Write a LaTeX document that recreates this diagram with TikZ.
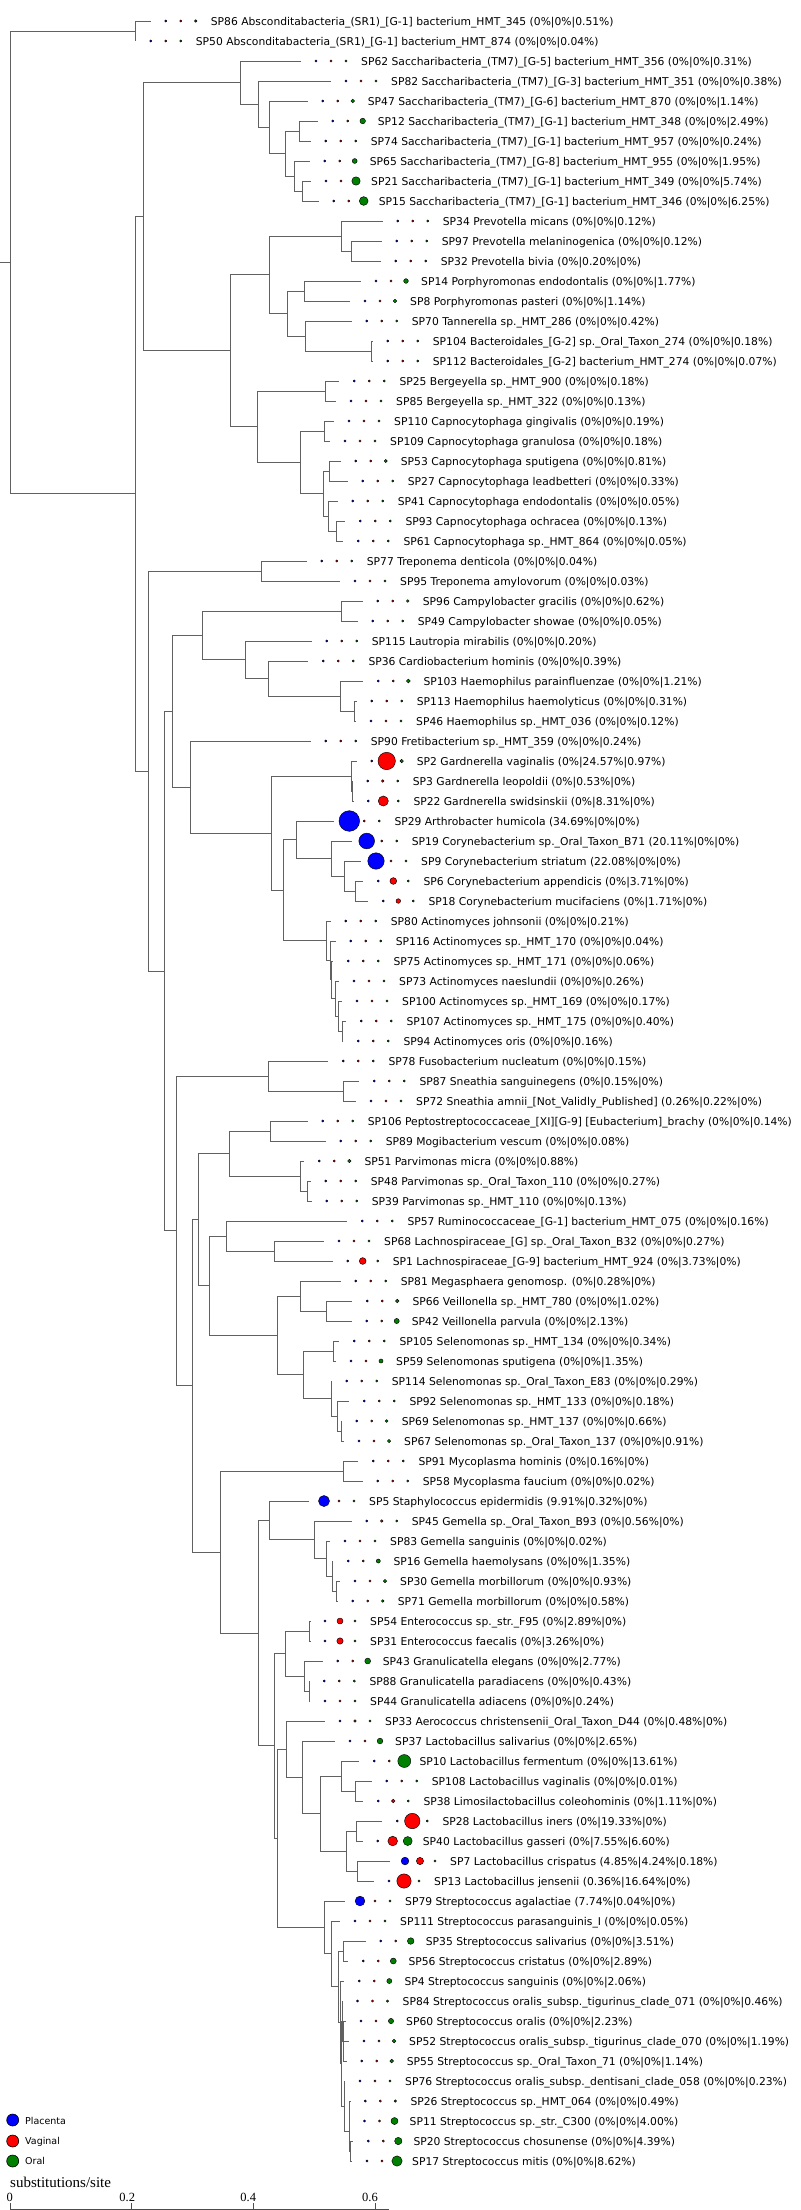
\documentclass[tikz,border=0pt]{standalone}
\usepackage{fontspec}
\setmainfont{DejaVu Sans}
\newfontfamily\axisfont{Liberation Serif}
\usetikzlibrary{calc}
\definecolor{plc}{RGB}{0,0,255}
\definecolor{vag}{RGB}{255,0,0}
\definecolor{orl}{RGB}{0,128,0}
% leaf: id, tip x, row, placenta, vaginal, oral, name
\newcommand\leaf[7]{%
  \pgfmathsetmacro\ly{21+20*(#3-1)}%
  \coordinate (sp#1) at (#2,\ly);
  \pgfmathsetmacro\da{2*max(1.1,1.75*sqrt(#4))}%
  \pgfmathsetmacro\db{2*max(1.1,1.75*sqrt(#5))}%
  \pgfmathsetmacro\dc{2*max(1.1,1.75*sqrt(#6))}%
  \node[dotc,fill=plc,minimum size=\da pt] (sp#1a) at ($(sp#1)+(15,0)$) {};
  \node[dotc,fill=vag,minimum size=\db pt] (sp#1b) at ($(sp#1)+(30,0)$) {};
  \node[dotc,fill=orl,minimum size=\dc pt] (sp#1c) at ($(sp#1)+(45,0)$) {};
  \node[lbl] (sp#1t) at ($(sp#1)+(60,4.3)$) {SP#1 #7 (#4\%|#5\%|#6\%)};
}
% clade: name, x, first child, last child
\newcommand\clade[4]{%
  \path ($(#3)!0.5!(#4)$) coordinate (#1m);
  \path let \p1=(#1m) in (#2pt,\y1) coordinate (#1);
  \draw[br] (#1) |- (#3);
  \draw[br] (#1) |- (#4);
}
\begin{document}
\begin{tikzpicture}[x=1pt,y=-1pt,
  br/.style={draw=black!62,line width=0.9pt},
  dotc/.style={circle,draw=black,line width=0.45pt,inner sep=0pt},
  lbl/.style={anchor=base west,inner sep=0pt,font=\fontsize{10.75}{12}\selectfont},
  legc/.style={circle,draw=black,line width=0.6pt,inner sep=0pt,minimum size=12pt},
  legt/.style={anchor=base west,inner sep=0pt,font=\fontsize{9.5}{11}\selectfont},
  axl/.style={draw=black!70,line width=0.9pt},
  tickl/.style={anchor=base,inner sep=0pt,font=\axisfont\fontsize{12.5}{14}\selectfont}]
\useasboundingbox (0,0) rectangle (800,2210);

\leaf{86}{150.7}{1}{0}{0}{0.51}{Absconditabacteria\_(SR1)\_[G-1] bacterium\_HMT\_345}
\leaf{50}{135.7}{2}{0}{0}{0.04}{Absconditabacteria\_(SR1)\_[G-1] bacterium\_HMT\_874}
\leaf{62}{301}{3}{0}{0}{0.31}{Saccharibacteria\_(TM7)\_[G-5] bacterium\_HMT\_356}
\leaf{82}{331}{4}{0}{0}{0.38}{Saccharibacteria\_(TM7)\_[G-3] bacterium\_HMT\_351}
\leaf{47}{307.7}{5}{0}{0}{1.14}{Saccharibacteria\_(TM7)\_[G-6] bacterium\_HMT\_870}
\leaf{12}{317.7}{6}{0}{0}{2.49}{Saccharibacteria\_(TM7)\_[G-1] bacterium\_HMT\_348}
\leaf{74}{310.7}{7}{0}{0}{0.24}{Saccharibacteria\_(TM7)\_[G-1] bacterium\_HMT\_957}
\leaf{65}{309.7}{8}{0}{0}{1.95}{Saccharibacteria\_(TM7)\_[G-8] bacterium\_HMT\_955}
\leaf{21}{311}{9}{0}{0}{5.74}{Saccharibacteria\_(TM7)\_[G-1] bacterium\_HMT\_349}
\leaf{15}{318.7}{10}{0}{0}{6.25}{Saccharibacteria\_(TM7)\_[G-1] bacterium\_HMT\_346}
\leaf{34}{382.7}{11}{0}{0}{0.12}{Prevotella micans}
\leaf{97}{381.7}{12}{0}{0}{0.12}{Prevotella melaninogenica}
\leaf{32}{380.7}{13}{0}{0.20}{0}{Prevotella bivia}
\leaf{14}{361}{14}{0}{0}{1.77}{Porphyromonas endodontalis}
\leaf{8}{350}{15}{0}{0}{1.14}{Porphyromonas pasteri}
\leaf{70}{351.7}{16}{0}{0}{0.42}{Tannerella sp.\_HMT\_286}
\leaf{104}{372.7}{17}{0}{0}{0.18}{Bacteroidales\_[G-2] sp.\_Oral\_Taxon\_274}
\leaf{112}{372.7}{18}{0}{0}{0.07}{Bacteroidales\_[G-2] bacterium\_HMT\_274}
\leaf{25}{339.3}{19}{0}{0}{0.18}{Bergeyella sp.\_HMT\_900}
\leaf{85}{336}{20}{0}{0}{0.13}{Bergeyella sp.\_HMT\_322}
\leaf{110}{334}{21}{0}{0}{0.19}{Capnocytophaga gingivalis}
\leaf{109}{330}{22}{0}{0}{0.18}{Capnocytophaga granulosa}
\leaf{53}{340.7}{23}{0}{0}{0.81}{Capnocytophaga sputigena}
\leaf{27}{347.7}{24}{0}{0}{0.33}{Capnocytophaga leadbetteri}
\leaf{41}{337.7}{25}{0}{0}{0.05}{Capnocytophaga endodontalis}
\leaf{93}{345.3}{26}{0}{0}{0.13}{Capnocytophaga ochracea}
\leaf{61}{343.3}{27}{0}{0}{0.05}{Capnocytophaga sp.\_HMT\_864}
\leaf{77}{306.7}{28}{0}{0}{0.04}{Treponema denticola}
\leaf{95}{340}{29}{0}{0}{0.03}{Treponema amylovorum}
\leaf{96}{362.7}{30}{0}{0}{0.62}{Campylobacter gracilis}
\leaf{49}{357.7}{31}{0}{0}{0.05}{Campylobacter showae}
\leaf{115}{311.7}{32}{0}{0}{0.20}{Lautropia mirabilis}
\leaf{36}{308.3}{33}{0}{0}{0.39}{Cardiobacterium hominis}
\leaf{103}{363.3}{34}{0}{0}{1.21}{Haemophilus parainfluenzae}
\leaf{113}{356.7}{35}{0}{0}{0.31}{Haemophilus haemolyticus}
\leaf{46}{356}{36}{0}{0}{0.12}{Haemophilus sp.\_HMT\_036}
\leaf{90}{310.7}{37}{0}{0}{0.24}{Fretibacterium sp.\_HMT\_359}
\leaf{2}{356.7}{38}{0}{24.57}{0.97}{Gardnerella vaginalis}
\leaf{3}{352.7}{39}{0}{0.53}{0}{Gardnerella leopoldii}
\leaf{22}{353.3}{40}{0}{8.31}{0}{Gardnerella swidsinskii}
\leaf{29}{334.3}{41}{34.69}{0}{0}{Arthrobacter humicola}
\leaf{19}{351.7}{42}{20.11}{0}{0}{Corynebacterium sp.\_Oral\_Taxon\_B71}
\leaf{9}{361}{43}{22.08}{0}{0}{Corynebacterium striatum}
\leaf{6}{363.3}{44}{0}{3.71}{0}{Corynebacterium appendicis}
\leaf{18}{368.3}{45}{0}{1.71}{0}{Corynebacterium mucifaciens}
\leaf{80}{330.7}{46}{0}{0}{0.21}{Actinomyces johnsonii}
\leaf{116}{335.7}{47}{0}{0}{0.04}{Actinomyces sp.\_HMT\_170}
\leaf{75}{333.3}{48}{0}{0}{0.06}{Actinomyces sp.\_HMT\_171}
\leaf{73}{339}{49}{0}{0}{0.26}{Actinomyces naeslundii}
\leaf{100}{342}{50}{0}{0}{0.17}{Actinomyces sp.\_HMT\_169}
\leaf{107}{346.3}{51}{0}{0}{0.40}{Actinomyces sp.\_HMT\_175}
\leaf{94}{343.3}{52}{0}{0}{0.16}{Actinomyces oris}
\leaf{78}{328.3}{53}{0}{0}{0.15}{Fusobacterium nucleatum}
\leaf{87}{359.3}{54}{0}{0.15}{0}{Sneathia sanguinegens}
\leaf{72}{356}{55}{0.26}{0.22}{0}{Sneathia amnii\_[Not\_Validly\_Published]}
\leaf{106}{307.7}{56}{0}{0}{0.14}{Peptostreptococcaceae\_[XI][G-9] [Eubacterium]\_brachy}
\leaf{89}{325.7}{57}{0}{0}{0.08}{Mogibacterium vescum}
\leaf{51}{304.3}{58}{0}{0}{0.88}{Parvimonas micra}
\leaf{48}{310.7}{59}{0}{0}{0.27}{Parvimonas sp.\_Oral\_Taxon\_110}
\leaf{39}{311.7}{60}{0}{0}{0.13}{Parvimonas sp.\_HMT\_110}
\leaf{57}{347.3}{61}{0}{0}{0.16}{Ruminococcaceae\_[G-1] bacterium\_HMT\_075}
\leaf{68}{324}{62}{0}{0}{0.27}{Lachnospiraceae\_[G] sp.\_Oral\_Taxon\_B32}
\leaf{1}{332.7}{63}{0}{3.73}{0}{Lachnospiraceae\_[G-9] bacterium\_HMT\_924}
\leaf{81}{340.7}{64}{0}{0.28}{0}{Megasphaera genomosp.}
\leaf{66}{352.3}{65}{0}{0}{1.02}{Veillonella sp.\_HMT\_780}
\leaf{42}{351.7}{66}{0}{0}{2.13}{Veillonella parvula}
\leaf{105}{339.3}{67}{0}{0}{0.34}{Selenomonas sp.\_HMT\_134}
\leaf{59}{336}{68}{0}{0}{1.35}{Selenomonas sputigena}
\leaf{114}{331.7}{69}{0}{0}{0.29}{Selenomonas sp.\_Oral\_Taxon\_E83}
\leaf{92}{349.3}{70}{0}{0}{0.18}{Selenomonas sp.\_HMT\_133}
\leaf{69}{341.7}{71}{0}{0}{0.66}{Selenomonas sp.\_HMT\_137}
\leaf{67}{344}{72}{0}{0}{0.91}{Selenomonas sp.\_Oral\_Taxon\_137}
\leaf{91}{358.3}{73}{0}{0.16}{0}{Mycoplasma hominis}
\leaf{58}{362.7}{74}{0}{0}{0.02}{Mycoplasma faucium}
\leaf{5}{309}{75}{9.91}{0.32}{0}{Staphylococcus epidermidis}
\leaf{45}{351.7}{76}{0}{0.56}{0}{Gemella sp.\_Oral\_Taxon\_B93}
\leaf{83}{330}{77}{0}{0}{0.02}{Gemella sanguinis}
\leaf{16}{333.3}{78}{0}{0}{1.35}{Gemella haemolysans}
\leaf{30}{340}{79}{0}{0}{0.93}{Gemella morbillorum}
\leaf{71}{337.7}{80}{0}{0}{0.58}{Gemella morbillorum}
\leaf{54}{310}{81}{0}{2.89}{0}{Enterococcus sp.\_str.\_F95}
\leaf{31}{310}{82}{0}{3.26}{0}{Enterococcus faecalis}
\leaf{43}{322.7}{83}{0}{0}{2.77}{Granulicatella elegans}
\leaf{88}{309.3}{84}{0}{0}{0.43}{Granulicatella paradiacens}
\leaf{44}{310}{85}{0}{0}{0.24}{Granulicatella adiacens}
\leaf{33}{325}{86}{0}{0.48}{0}{Aerococcus christensenii\_Oral\_Taxon\_D44}
\leaf{37}{335}{87}{0}{0}{2.65}{Lactobacillus salivarius}
\leaf{10}{359.3}{88}{0}{0}{13.61}{Lactobacillus fermentum}
\leaf{108}{371.7}{89}{0}{0}{0.01}{Lactobacillus vaginalis}
\leaf{38}{363.3}{90}{0}{1.11}{0}{Limosilactobacillus coleohominis}
\leaf{28}{382.3}{91}{0}{19.33}{0}{Lactobacillus iners}
\leaf{40}{362.7}{92}{0}{7.55}{6.60}{Lactobacillus gasseri}
\leaf{7}{390}{93}{4.85}{4.24}{0.18}{Lactobacillus crispatus}
\leaf{13}{374}{94}{0.36}{16.64}{0}{Lactobacillus jensenii}
\leaf{79}{345}{95}{7.74}{0.04}{0}{Streptococcus agalactiae}
\leaf{111}{340}{96}{0}{0}{0.05}{Streptococcus parasanguinis\_I}
\leaf{35}{365.7}{97}{0}{0}{3.51}{Streptococcus salivarius}
\leaf{56}{348.3}{98}{0}{0}{2.89}{Streptococcus cristatus}
\leaf{4}{344.3}{99}{0}{0}{2.06}{Streptococcus sanguinis}
\leaf{84}{342.5}{100}{0}{0}{0.46}{Streptococcus oralis\_subsp.\_tigurinus\_clade\_071}
\leaf{60}{346}{101}{0}{0}{2.23}{Streptococcus oralis}
\leaf{52}{349}{102}{0}{0}{1.19}{Streptococcus oralis\_subsp.\_tigurinus\_clade\_070}
\leaf{55}{346.7}{103}{0}{0}{1.14}{Streptococcus sp.\_Oral\_Taxon\_71}
\leaf{76}{345}{104}{0}{0}{0.23}{Streptococcus oralis\_subsp.\_dentisani\_clade\_058}
\leaf{26}{350.3}{105}{0}{0}{0.49}{Streptococcus sp.\_HMT\_064}
\leaf{11}{349.5}{106}{0}{0}{4.00}{Streptococcus sp.\_str.\_C300}
\leaf{20}{353.3}{107}{0}{0}{4.39}{Streptococcus chosunense}
\leaf{17}{352}{108}{0}{0}{8.62}{Streptococcus mitis}

\clade{nA}{135.7}{sp86}{sp50}
\clade{S7}{302.3}{sp21}{sp15}
\clade{S6}{294.7}{sp65}{S7}
\clade{S5}{299}{sp12}{sp74}
\clade{S4}{285.3}{S5}{S6}
\clade{S3}{269.3}{sp47}{S4}
\clade{S2}{258.7}{sp82}{S3}
\clade{S1}{240}{sp62}{S2}
\clade{Pv2}{351.7}{sp97}{sp32}
\clade{Pv1}{341.7}{sp34}{Pv2}
\clade{Pr1}{304}{sp14}{sp8}
\clade{Bg2}{371.7}{sp104}{sp112}
\clade{Tn}{305.3}{sp70}{Bg2}
\clade{Pr}{287.3}{Pr1}{Tn}
\clade{Q}{269.3}{Pv1}{Pr}
\clade{Be}{325.3}{sp25}{sp85}
\clade{Ca1}{324.7}{sp110}{sp109}
\clade{Ca3}{329.3}{sp53}{sp27}
\clade{Ca5}{336.7}{sp93}{sp61}
\clade{Ca4}{328.7}{sp41}{Ca5}
\clade{Ca2}{323.3}{Ca3}{Ca4}
\clade{Ca}{300.7}{Ca1}{Ca2}
\clade{R}{257}{Be}{Ca}
\clade{P}{230.7}{Q}{R}
\clade{C}{143.3}{S1}{P}
\clade{Tr}{261.7}{sp77}{sp95}
\clade{Cp}{341.7}{sp96}{sp49}
\clade{Hm2}{354.3}{sp113}{sp46}
\clade{Hm}{340.7}{sp103}{Hm2}
\clade{K}{268.3}{sp36}{Hm}
\clade{J}{245}{sp115}{K}
\clade{H}{202.7}{Cp}{J}
\clade{Gd2}{352.7}{sp3}{sp22}
\clade{Gd}{351.7}{sp2}{Gd2}
\clade{Cr4}{355.3}{sp6}{sp18}
\clade{Cr3}{344.3}{sp9}{Cr4}
\clade{Cr2}{331}{sp19}{Cr3}
\clade{Cr1}{296.3}{sp29}{Cr2}
\clade{A6}{342.3}{sp107}{sp94}
\clade{A5}{338.3}{sp100}{A6}
\clade{A4}{335}{sp73}{A5}
\clade{A3}{331.7}{sp75}{A4}
\clade{A2}{330}{sp116}{A3}
\clade{A1}{326.3}{sp80}{A2}
\clade{M}{283.7}{Cr1}{A1}
\clade{L}{271.7}{Gd}{M}
\clade{I}{190.3}{sp90}{L}
\clade{F}{172.7}{H}{I}
\clade{Sn}{343.3}{sp87}{sp72}
\clade{Fu}{268.3}{sp78}{Sn}
\clade{Pe}{270}{sp106}{sp89}
\clade{Pa2}{307.7}{sp48}{sp39}
\clade{Pa}{300.7}{sp51}{Pa2}
\clade{W}{229.3}{Pe}{Pa}
\clade{La}{274.3}{sp68}{sp1}
\clade{Y}{226}{sp57}{La}
\clade{Ve2}{326.7}{sp66}{sp42}
\clade{Ve}{300.7}{sp81}{Ve2}
\clade{Se1}{333.3}{sp105}{sp59}
\clade{Se4}{341.7}{sp69}{sp67}
\clade{Se3}{337.7}{sp92}{Se4}
\clade{Se2}{331.7}{sp114}{Se3}
\clade{Se}{303}{Se1}{Se2}
\clade{Z}{277.7}{Ve}{Se}
\clade{X}{209}{Y}{Z}
\clade{U}{198.7}{W}{X}
\clade{My}{343.3}{sp91}{sp58}
\clade{Ge4}{336.7}{sp30}{sp71}
\clade{Ge3}{332}{sp16}{Ge4}
\clade{Ge2}{326.7}{sp83}{Ge3}
\clade{Ge}{314.3}{sp45}{Ge2}
\clade{BB}{269}{sp5}{Ge}
\clade{En}{309.7}{sp54}{sp31}
\clade{Gr2}{309.3}{sp88}{sp44}
\clade{Gr}{304.7}{sp43}{Gr2}
\clade{DD}{285}{En}{Gr}
\clade{Lb3}{355}{sp108}{sp38}
\clade{JJ}{341.7}{sp10}{Lb3}
\clade{LL}{356.7}{sp28}{sp40}
\clade{MM}{357.3}{sp7}{sp13}
\clade{KK}{346.7}{LL}{MM}
\clade{II}{320.7}{JJ}{KK}
\clade{HH}{302.7}{sp37}{II}
\clade{FF}{286}{sp33}{HH}
\clade{Rs1}{343.3}{sp35}{sp56}
\clade{U0}{343.5}{sp60}{sp55}
\draw[br] (U0) |- (sp52);
\clade{Up}{342.5}{sp84}{U0}
\clade{Y1}{349.5}{sp26}{sp11}
\clade{Zs}{350}{sp20}{sp17}
\clade{X2}{349}{Y1}{Zs}
\clade{Ws}{344.3}{sp76}{X2}
\clade{R3}{341.5}{Up}{Ws}
\clade{R2}{340}{sp4}{R3}
\clade{Q1}{338.3}{Rs1}{R2}
\clade{HH2}{331}{sp111}{Q1}
\clade{GG}{324.3}{sp79}{HH2}
\clade{EE}{277.3}{FF}{GG}
\clade{CC}{274.3}{DD}{EE}
\clade{AA}{258.3}{BB}{CC}
\clade{V}{220}{My}{AA}
\clade{T}{192.3}{U}{V}
\clade{G}{176}{Fu}{T}
\clade{E}{164.7}{F}{G}
\clade{D}{148.3}{Tr}{E}
\clade{B}{135.7}{C}{D}
\clade{root}{10}{nA}{B}
\path let \p1=(root) in (0pt,\y1) coordinate (rootstub);
\draw[br] (rootstub) -- (root);

% legend
\node[legc,fill=plc] (lg1) at (12.7,2120) {};
\node[legc,fill=vag] (lg2) at (12.7,2141) {};
\node[legc,fill=orl] (lg3) at (12.7,2161) {};
\node[legt] (lt1) at (25,2124) {Placenta};
\node[legt] (lt2) at (25,2144.5) {Vaginal};
\node[legt] (lt3) at (25,2164.5) {Oral};

% scale axis
\node[anchor=base west,inner sep=0pt,font=\axisfont\fontsize{15}{17}\selectfont] (axt) at (10,2187.5) {substitutions/site};
\coordinate (ax0) at (10,2209);
\coordinate (ax1) at (389,2209);
\draw[axl] (ax0) -- (ax1);
\foreach \i/\t/\lx/\lab in {0/10/9.7/0, 1/131.7/127.2/0.2, 2/253.3/248.3/0.4, 3/375/370/0.6}{
  \coordinate (tkb\i) at (\t,2209);
  \coordinate (tkt\i) at (\t,2203);
  \draw[axl] (tkb\i) -- (tkt\i);
  \node[tickl] (tkl\i) at (\lx,2201) {\lab};
}
\end{tikzpicture}
\end{document}
